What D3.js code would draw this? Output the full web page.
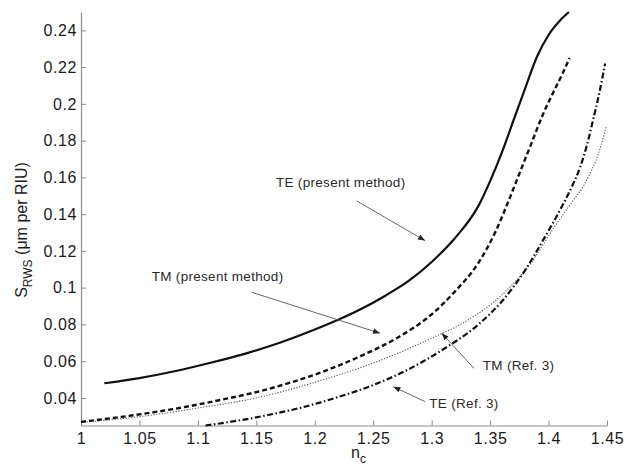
<!DOCTYPE html>
<html>
<head>
<meta charset="utf-8">
<script src="https://cdn.jsdelivr.net/npm/d3@7"></script>
<style>
  body { margin: 0; background: #fff; }
  svg { display: block; font-family: "Liberation Sans", Arial, sans-serif; }
</style>
</head>
<body>
<svg id="chart" width="632" height="474"></svg>
<script>
// values (n_c, S_RWS)
var teNc   = [1.02, 1.05, 1.08, 1.11, 1.14, 1.17, 1.20, 1.22, 1.24, 1.26, 1.28, 1.30, 1.32, 1.34, 1.35, 1.36, 1.37, 1.38, 1.39, 1.40, 1.41, 1.4174];
var teS    = [0.048, 0.0508, 0.0545, 0.059, 0.064, 0.070, 0.0772, 0.0825, 0.0885, 0.0955, 0.1035, 0.114, 0.127, 0.1445, 0.158, 0.1735, 0.191, 0.2085, 0.2255, 0.2375, 0.2455, 0.25];

var tmNc   = [1.00, 1.03, 1.06, 1.09, 1.12, 1.15, 1.18, 1.21, 1.24, 1.27, 1.30, 1.32, 1.34, 1.355, 1.365, 1.375, 1.385, 1.395, 1.405, 1.412, 1.418];
var tmS    = [0.027, 0.0293, 0.032, 0.0352, 0.039, 0.0432, 0.0485, 0.055, 0.063, 0.0725, 0.0855, 0.098, 0.1135, 0.131, 0.146, 0.162, 0.178, 0.194, 0.2075, 0.2165, 0.225];

var tmRefNc = [1.00, 1.05, 1.10, 1.15, 1.20, 1.25, 1.30, 1.33, 1.36, 1.385, 1.405, 1.42, 1.43, 1.435, 1.44, 1.445, 1.4493];
var tmRefS  = [0.0267, 0.0298, 0.0345, 0.040, 0.0485, 0.059, 0.0725, 0.082, 0.096, 0.1135, 0.133, 0.1465, 0.1555, 0.1615, 0.1685, 0.1775, 0.1876];

var teRefNc = [1.1065, 1.13, 1.16, 1.19, 1.22, 1.25, 1.28, 1.31, 1.34, 1.36, 1.38, 1.395, 1.41, 1.42, 1.427, 1.433, 1.438, 1.4436, 1.4484];
var teRefS  = [0.025, 0.0272, 0.0307, 0.035, 0.0405, 0.047, 0.0555, 0.0665, 0.080, 0.0925, 0.1095, 0.1255, 0.1425, 0.155, 0.1655, 0.178, 0.191, 0.2065, 0.222];

var xTicks = [1, 1.05, 1.1, 1.15, 1.2, 1.25, 1.3, 1.35, 1.4, 1.45];
var yTicks = [0.04, 0.06, 0.08, 0.1, 0.12, 0.14, 0.16, 0.18, 0.2, 0.22, 0.24];

// annotations: label, text anchor point, arrow tail, arrow head (data units)
var notes = [
  { text: "TE (present method)", at: [1.1668, 0.1548], from: [1.2359, 0.1472], to: [1.2943, 0.1256] },
  { text: "TM (present method)", at: [1.0605, 0.1034], from: [1.146, 0.0975],  to: [1.2558, 0.0752] },
  { text: "TM (Ref. 3)",         at: [1.3437, 0.0552], from: [1.3362, 0.0561], to: [1.3086, 0.0752] },
  { text: "TE (Ref. 3)",         at: [1.298, 0.0345],  from: [1.2943, 0.0380], to: [1.2672, 0.0461] }
];

var svg = d3.select("#chart");

var x = d3.scaleLinear().domain([1, 1.45]).range([81, 607]);
var y = d3.scaleLinear().domain([0.025, 0.25]).range([425.5, 12]);

var defs = svg.append("defs");
defs.append("marker")
    .attr("id", "head")
    .attr("viewBox", "0 0 10 10")
    .attr("refX", 10).attr("refY", 5)
    .attr("markerWidth", 9).attr("markerHeight", 7)
    .attr("markerUnits", "userSpaceOnUse")
    .attr("orient", "auto")
  .append("path")
    .attr("d", "M0,1L10,5L0,9z")
    .attr("fill", "#222");

var xAxis = svg.append("g")
    .attr("transform", "translate(0,425.5)")
    .call(d3.axisBottom(x).tickValues(xTicks).tickFormat(d3.format("~g"))
      .tickSize(-5).tickSizeOuter(0).tickPadding(7));

var yAxis = svg.append("g")
    .attr("transform", "translate(81,0)")
    .call(d3.axisLeft(y).tickValues(yTicks).tickFormat(d3.format("~g"))
      .tickSize(-5).tickSizeOuter(0).tickPadding(4));

[xAxis, yAxis].forEach(function(g) {
  g.select(".domain").attr("stroke", "#8a8a8a").attr("stroke-width", 1.2);
  g.selectAll(".tick line").attr("stroke", "#8a8a8a");
  g.selectAll(".tick text")
    .attr("fill", "#1a1a1a")
    .style("font-size", "16px")
    .style("letter-spacing", "0.6px")
    .style("font-family", "'Liberation Sans', Arial, sans-serif");
});

var line = d3.line()
    .x(function(d) { return x(d[0]); })
    .y(function(d) { return y(d[1]); })
    .curve(d3.curveMonotoneX);

var series = [
  { nc: tmRefNc, s: tmRefS, dash: "1.2,1.6", w: 1.1, color: "#555" },
  { nc: teRefNc, s: teRefS, dash: "6,2.5,1.5,2.5", w: 2.2, color: "#111" },
  { nc: tmNc,    s: tmS,    dash: "5,3", w: 2.4, color: "#111" },
  { nc: teNc,    s: teS,    dash: null, w: 2.2, color: "#111" }
];

svg.append("g")
  .selectAll("path")
  .data(series)
  .enter()
    .append("path")
    .attr("fill", "none")
    .attr("stroke", function(d) { return d.color; })
    .attr("stroke-width", function(d) { return d.w; })
    .attr("stroke-dasharray", function(d) { return d.dash; })
    .attr("d", function(d) { return line(d3.zip(d.nc, d.s)); });

var ann = svg.append("g");

ann.selectAll("line")
  .data(notes)
  .enter()
    .append("line")
    .attr("x1", function(d) { return x(d.from[0]); })
    .attr("y1", function(d) { return y(d.from[1]); })
    .attr("x2", function(d) { return x(d.to[0]); })
    .attr("y2", function(d) { return y(d.to[1]); })
    .attr("stroke", "#555")
    .attr("stroke-width", 0.9)
    .attr("marker-end", "url(#head)");

ann.selectAll("text")
  .data(notes)
  .enter()
    .append("text")
    .attr("x", function(d) { return x(d.at[0]); })
    .attr("y", function(d) { return y(d.at[1]); })
    .attr("fill", "#2a2a2a")
    .style("font-size", "13.5px")
    .style("letter-spacing", "0.3px")
    .text(function(d) { return d.text; });

// axis labels
var yl = svg.append("text")
    .attr("transform", "translate(27,230) rotate(-90)")
    .attr("text-anchor", "middle")
    .attr("fill", "#1a1a1a")
    .style("font-size", "16px");
yl.append("tspan").text("S");
yl.append("tspan").attr("dy", 5).style("font-size", "12px").text("RWS");
yl.append("tspan").attr("dy", -5).text(" (\u03bcm per RIU)");

var xl = svg.append("text")
    .attr("x", 351)
    .attr("y", 458)
    .attr("fill", "#1a1a1a")
    .style("font-size", "16px");
xl.append("tspan").text("n");
xl.append("tspan").attr("dy", 5).style("font-size", "12px").text("c");
</script>
</body>
</html>
